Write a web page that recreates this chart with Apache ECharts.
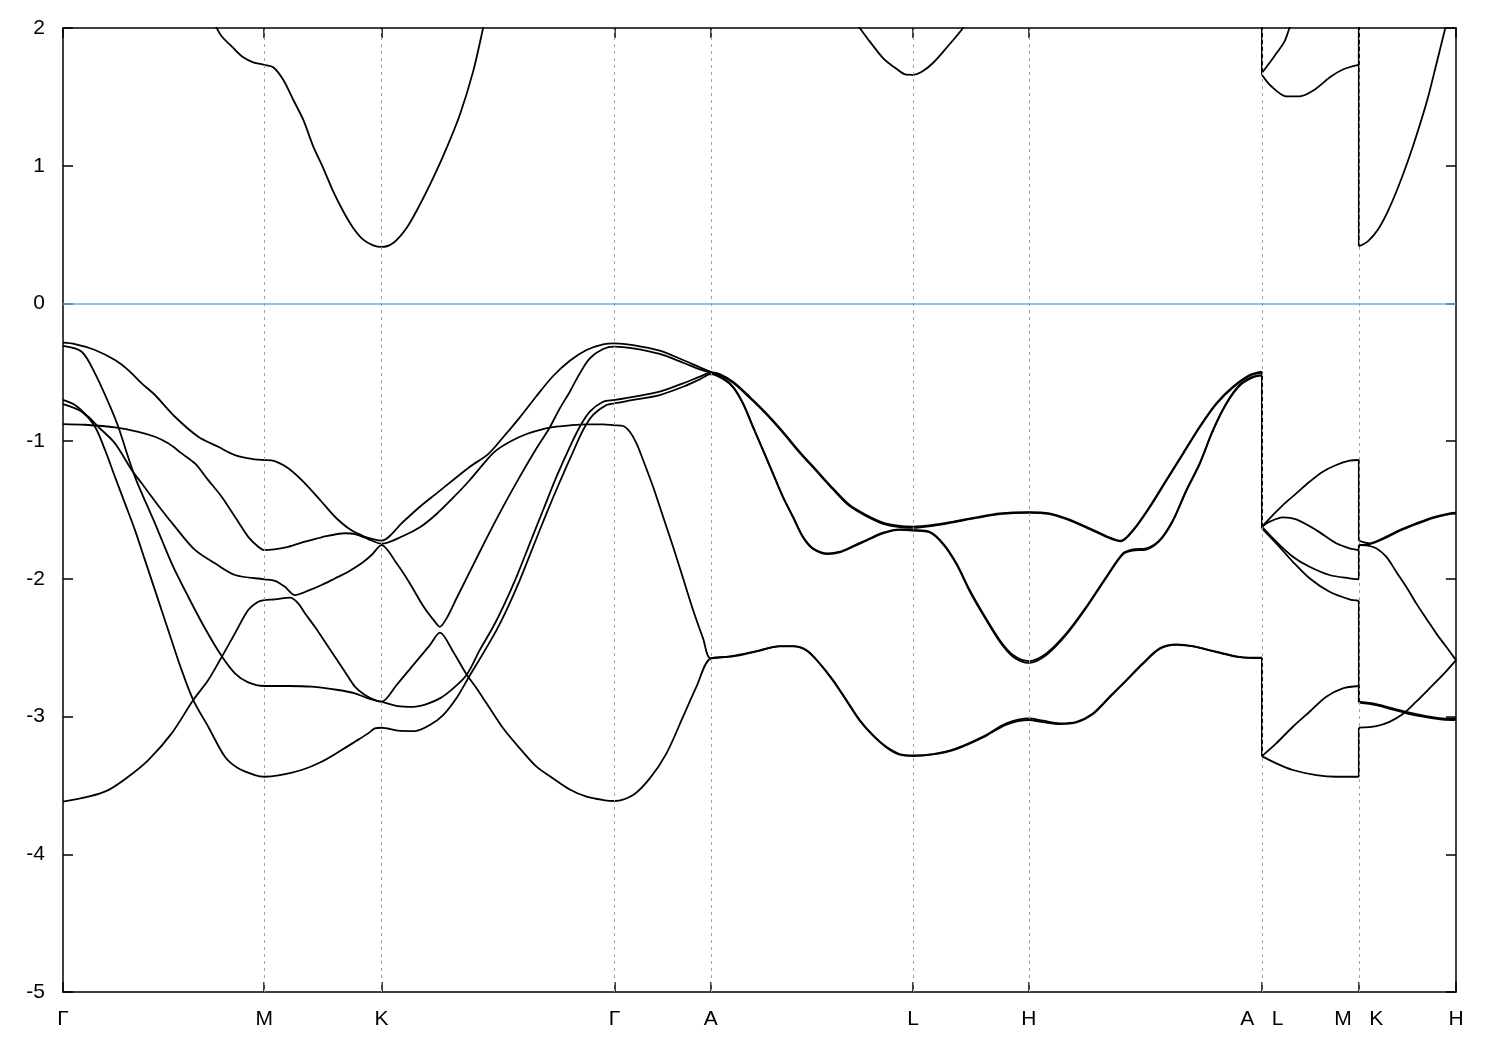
<!DOCTYPE html>
<html>
<head>
<meta charset="utf-8">
<script src="https://cdn.jsdelivr.net/npm/echarts@6/dist/echarts.min.js"></script>
<style>html,body{margin:0;padding:0;background:#fff}#chart{width:1500px;height:1050px}</style>
</head>
<body>
<div id="chart"></div>
<script>
// High-symmetry points along the k-path (path distance units) and their labels
const kTicks = [0, 201.3, 318.7, 551.7, 648, 850.3, 966.3, 1199.3, 1296.3, 1393.5];
const kLabels = ['Γ', 'M', 'K', 'Γ', 'A', 'L', 'H', 'A   L', 'M   K', 'H'];
const energyMin = -5, energyMax = 2, energyStep = 1;
const fermiLevel = 0;

// ---- valence bands: [k, E] along Γ-M-K-Γ-A-L-H-A, then L-M, then K-H ----
const b1Path = [[0,-0.285],[12,-0.295],[32,-0.338],[52,-0.411],[65.3,-0.484],[78.7,-0.580],[92,-0.665],[112,-0.823],[135.3,-0.968],[155.3,-1.041],[172,-1.101],[192,-1.132],[201.3,-1.137],
 [208.7,-1.140],[225.3,-1.197],[242,-1.306],[258.7,-1.440],[272,-1.549],[287,-1.640],[302,-1.694],[312,-1.715],[318.7,-1.722],
 [340.3,-1.585],[357,-1.476],[373.7,-1.379],[390.3,-1.282],[407,-1.186],[425.3,-1.094],[440.3,-0.972],[457,-0.827],[473.7,-0.672],[490.3,-0.527],[507,-0.416],[523.7,-0.338],[540.3,-0.297],[551.7,-0.290],
 [570.3,-0.302],[597,-0.343],[620.3,-0.411],[637,-0.464],[648,-0.496],
 [657,-0.513],[670.3,-0.569],[687,-0.678],[703.7,-0.798],[720.3,-0.932],[737,-1.077],[753.7,-1.210],[770.3,-1.343],[787,-1.464],[803.7,-1.537],[820.3,-1.592],[837,-1.616],[850.3,-1.621],
 [870.3,-1.609],[890.3,-1.585],[913.7,-1.553],[937,-1.524],[966.3,-1.515],[987,-1.524],[1003.7,-1.561],[1023.7,-1.622],[1043.7,-1.689],[1058,-1.723],[1070.3,-1.646],[1087,-1.476],[1103.7,-1.282],[1120.3,-1.089],[1137,-0.895],[1153.7,-0.725],[1170.3,-0.605],[1187,-0.520],[1199.3,-0.496]];
const b1LM = [[1199.3,-1.621],[1210.3,-1.537],[1220.3,-1.464],[1233.7,-1.379],[1247,-1.295],[1260.3,-1.222],[1273.7,-1.173],[1287,-1.142],[1296.3,-1.137]];
const b1KH = [[1296.3,-1.722],[1307,-1.742],[1320.3,-1.706],[1337,-1.646],[1353.7,-1.597],[1370.3,-1.553],[1387,-1.524],[1393.5,-1.520]];

const b2Path = [[0,-0.876],[22,-0.881],[52,-0.900],[75.3,-0.932],[92,-0.968],[105.3,-1.016],[118.7,-1.089],[132,-1.162],[145.3,-1.283],[158.7,-1.404],[172,-1.549],[185.3,-1.695],[195.3,-1.767],[201.3,-1.791],
 [225.3,-1.767],[242,-1.730],[258.7,-1.698],[282,-1.669],[292,-1.675],[305.3,-1.711],[318.7,-1.745],
 [340.3,-1.689],[357,-1.626],[373.7,-1.529],[390.3,-1.411],[407,-1.282],[425.3,-1.125],[433.7,-1.065],[447,-1.004],[463.7,-0.948],[480.3,-0.912],[493.7,-0.895],[507,-0.885],[523.7,-0.878],[540.3,-0.878],[551.7,-0.885],
 [560.3,-0.890],[567,-0.932],[573.7,-1.016],[580.3,-1.137],[590.3,-1.331],[600.3,-1.549],[610.3,-1.767],[620.3,-1.996],[630.3,-2.226],[640.3,-2.432],[648,-2.577],
 [670.3,-2.560],[693.7,-2.524],[717,-2.488],[730.3,-2.488],[743.7,-2.517],[757,-2.613],[770.3,-2.735],[783.7,-2.880],[797,-3.025],[810.3,-3.134],[823.7,-3.219],[837,-3.272],[850.3,-3.282],
 [870.3,-3.272],[893.7,-3.231],[920.3,-3.146],[943.7,-3.049],[966.3,-3.013],[980.3,-3.030],[997,-3.049],[1013.7,-3.038],[1030.3,-2.977],[1047,-2.856],[1063.7,-2.735],[1080.3,-2.613],[1097,-2.505],[1113.7,-2.476],[1130.3,-2.488],[1153.7,-2.529],[1177,-2.566],[1199.3,-2.573]];
const b2LM = [[1199.3,-3.287],[1213.7,-3.194],[1230.3,-3.074],[1247,-2.965],[1263.7,-2.856],[1280.3,-2.795],[1296.3,-2.778]];
const b2KH = [[1296.3,-2.898],[1313.7,-2.916],[1330.3,-2.949],[1347,-2.982],[1363.7,-3.004],[1380.3,-3.022],[1393.5,-3.025]];

const b3Path = [[0,-0.701],[12,-0.738],[25.3,-0.823],[35.3,-0.896],[52,-1.016],[68.7,-1.209],[78.7,-1.306],[98.7,-1.500],[112,-1.621],[132,-1.790],[152,-1.887],[172,-1.972],[201.3,-2.003],
 [212,-2.014],[222,-2.057],[232,-2.118],[245.3,-2.086],[258.7,-2.045],[272,-1.997],[285.3,-1.948],[298.7,-1.887],[308.7,-1.827],[318.7,-1.755],
 [333.7,-1.887],[347,-2.033],[360.3,-2.197],[372,-2.311],[377,-2.348],[383.7,-2.287],[393.7,-2.141],[407,-1.948],[423.7,-1.706],[440.3,-1.476],[457,-1.258],[473.7,-1.052],[486,-0.912],[497,-0.762],[507,-0.641],[517,-0.508],[527,-0.399],[540.3,-0.331],[551.7,-0.314],
 [570.3,-0.326],[597,-0.367],[620.3,-0.431],[637,-0.479],[648,-0.503],
 [657,-0.520],[670.3,-0.577],[687,-0.686],[703.7,-0.806],[720.3,-0.940],[737,-1.085],[753.7,-1.218],[770.3,-1.351],[787,-1.472],[803.7,-1.545],[820.3,-1.600],[837,-1.624],[850.3,-1.630],
 [870.3,-1.615],[890.3,-1.590],[913.7,-1.558],[937,-1.530],[966.3,-1.520],[987,-1.530],[1003.7,-1.567],[1023.7,-1.628],[1043.7,-1.695],[1058,-1.728],[1070.3,-1.652],[1087,-1.482],[1103.7,-1.288],[1120.3,-1.095],[1137,-0.901],[1153.7,-0.731],[1170.3,-0.611],[1187,-0.526],[1199.3,-0.503]];
const b3LM = [[1199.3,-1.621],[1207,-1.585],[1220.3,-1.553],[1233.7,-1.568],[1253.7,-1.646],[1273.7,-1.742],[1287,-1.778],[1296.3,-1.791]];
const b3KH = [[1296.3,-1.755],[1307,-1.748],[1320.3,-1.712],[1337,-1.652],[1353.7,-1.603],[1370.3,-1.559],[1387,-1.530],[1393.5,-1.526]];

const b4Path = [[0,-3.618],[25.3,-3.582],[45.3,-3.534],[65.3,-3.437],[85.3,-3.316],[108.7,-3.122],[130.3,-2.880],[145.3,-2.735],[158,-2.577],[172,-2.396],[185.3,-2.226],[195.3,-2.166],[201.3,-2.154],
 [212,-2.149],[227,-2.137],[235.3,-2.178],[242,-2.250],[252,-2.348],[262,-2.457],[272,-2.566],[282,-2.674],[292,-2.783],[302,-2.844],[312,-2.880],[318.7,-2.892],
 [333.7,-2.771],[350.3,-2.626],[367,-2.481],[377,-2.391],[390.3,-2.529],[403,-2.686],[413.7,-2.795],[423.7,-2.904],[440.3,-3.085],[457,-3.231],[473.7,-3.364],[490.3,-3.449],[507,-3.529],[523.7,-3.582],[540.3,-3.606],[551.7,-3.613],
 [570.3,-3.570],[587,-3.449],[603.7,-3.267],[620.3,-3.001],[633.7,-2.783],[648,-2.577],
 [670.3,-2.563],[693.7,-2.527],[717,-2.491],[730.3,-2.491],[743.7,-2.521],[757,-2.617],[770.3,-2.740],[783.7,-2.885],[797,-3.030],[810.3,-3.139],[823.7,-3.224],[837,-3.277],[850.3,-3.287],
 [870.3,-3.275],[893.7,-3.236],[920.3,-3.152],[943.7,-3.058],[966.3,-3.025],[980.3,-3.040],[997,-3.055],[1013.7,-3.043],[1030.3,-2.982],[1047,-2.860],[1063.7,-2.739],[1080.3,-2.617],[1097,-2.509],[1113.7,-2.480],[1130.3,-2.491],[1153.7,-2.532],[1177,-2.569],[1199.3,-2.576]];
const b4LM = [[1199.3,-3.287],[1213.7,-3.340],[1230.3,-3.388],[1253.7,-3.425],[1273.7,-3.437],[1296.3,-3.437]];
const b4KH = [[1296.3,-3.081],[1313.7,-3.069],[1327,-3.038],[1340.3,-2.982],[1353.7,-2.892],[1367,-2.795],[1380.3,-2.698],[1393.5,-2.590]];

const b5Path = [[0,-0.309],[18.7,-0.351],[32,-0.508],[48.7,-0.774],[55.3,-0.896],[72,-1.259],[92,-1.597],[108.7,-1.887],[125.3,-2.130],[142,-2.359],[158,-2.553],[172,-2.686],[185.3,-2.752],[201.3,-2.778],
 [225.3,-2.778],[248.7,-2.783],[275.3,-2.807],[292,-2.831],[305.3,-2.868],[318.7,-2.892],
 [335,-2.924],[350.3,-2.929],[363.7,-2.909],[377,-2.868],[390.3,-2.795],[403.7,-2.698],[417,-2.516],[430.3,-2.348],[440.3,-2.203],[453.7,-1.985],[467,-1.742],[480.3,-1.500],[493.7,-1.258],[507,-1.041],[517,-0.895],[527,-0.786],[540.3,-0.714],[551.7,-0.701],
 [570.3,-0.678],[597,-0.641],[620.3,-0.580],[637,-0.532],[648,-0.503],
 [660.3,-0.544],[670.3,-0.605],[680.3,-0.725],[690.3,-0.895],[700.3,-1.064],[710.3,-1.234],[720.3,-1.404],[730.3,-1.549],[740.3,-1.695],[750.3,-1.778],[765.3,-1.815],[777,-1.803],[790.3,-1.762],[803.7,-1.718],[820.3,-1.665],[837,-1.640],[850.3,-1.645],
 [867,-1.658],[880.3,-1.742],[893.7,-1.887],[907,-2.081],[920.3,-2.250],[937,-2.444],[950.3,-2.553],[966.3,-2.597],[983.7,-2.541],[1003.7,-2.396],[1023.7,-2.202],[1043.7,-1.985],[1060.3,-1.815],[1070.3,-1.786],[1083.7,-1.778],[1097,-1.718],[1110.3,-1.573],[1123.7,-1.356],[1137,-1.162],[1150.3,-0.920],[1163.7,-0.725],[1177,-0.592],[1190.3,-0.532],[1199.3,-0.520]];
const b5LM = [[1199.3,-1.621],[1213.7,-1.730],[1230.3,-1.839],[1247,-1.912],[1267,-1.972],[1287,-1.996],[1296.3,-2.003]];
const b5KH = [[1296.3,-1.755],[1305.3,-1.758],[1313.7,-1.778],[1323.7,-1.839],[1333.7,-1.948],[1343.7,-2.057],[1353.7,-2.178],[1363.7,-2.287],[1373.7,-2.396],[1383.7,-2.493],[1393.5,-2.590]];

const b6Path = [[0,-0.731],[18.7,-0.786],[32,-0.896],[42,-1.064],[52,-1.259],[62,-1.452],[72,-1.646],[82,-1.864],[92,-2.082],[105.3,-2.373],[118.7,-2.663],[130.3,-2.880],[145.3,-3.074],[162,-3.292],[175.3,-3.376],[192,-3.425],[201.3,-3.437],
 [217,-3.425],[238.7,-3.388],[258.7,-3.328],[278.7,-3.243],[292,-3.183],[305.3,-3.122],[312,-3.085],[318.7,-3.081],
 [335,-3.102],[352,-3.105],[367,-3.061],[380.3,-2.989],[393.7,-2.865],[405.3,-2.722],[420.3,-2.541],[433.7,-2.372],[443.7,-2.227],[457,-2.009],[470.3,-1.767],[483.7,-1.524],[497,-1.295],[510.3,-1.077],[520.3,-0.919],[530.3,-0.810],[543.7,-0.738],[551.7,-0.725],
 [570.3,-0.701],[597,-0.665],[620.3,-0.605],[637,-0.551],[648,-0.513],
 [660.3,-0.549],[670.3,-0.610],[680.3,-0.730],[690.3,-0.900],[700.3,-1.069],[710.3,-1.239],[720.3,-1.409],[730.3,-1.554],[740.3,-1.700],[750.3,-1.783],[765.3,-1.820],[777,-1.808],[790.3,-1.767],[803.7,-1.723],[820.3,-1.670],[837,-1.645],[850.3,-1.650],
 [867,-1.663],[880.3,-1.748],[893.7,-1.893],[907,-2.090],[920.3,-2.260],[937,-2.455],[950.3,-2.565],[966.3,-2.610],[983.7,-2.553],[1003.7,-2.406],[1023.7,-2.210],[1043.7,-1.992],[1060.3,-1.822],[1070.3,-1.795],[1083.7,-1.787],[1097,-1.725],[1110.3,-1.580],[1123.7,-1.362],[1137,-1.168],[1150.3,-0.926],[1163.7,-0.731],[1177,-0.598],[1190.3,-0.538],[1199.3,-0.525]];
const b6LM = [[1199.3,-1.633],[1213.7,-1.742],[1230.3,-1.876],[1247,-1.996],[1267,-2.094],[1287,-2.149],[1296.3,-2.159]];
const b6KH = [[1296.3,-2.892],[1313.7,-2.909],[1330.3,-2.940],[1347,-2.972],[1363.7,-2.996],[1380.3,-3.013],[1393.5,-3.016]];

// ---- conduction bands (values above 2 eV are off-frame estimates) ----
const c1Path = [[142,2.15],[153.7,2.0],[158.7,1.94],[170.3,1.855],[180.3,1.787],[190.3,1.751],[201.3,1.733],[210.3,1.715],[220.3,1.624],[230.3,1.479],[240.3,1.334],[250.3,1.141],[260.3,0.983],[270.3,0.814],[280.3,0.669],[290.3,0.548],[300.3,0.463],[310.3,0.422],[318.7,0.410],[330.3,0.439],[343.7,0.548],[357,0.717],[370.3,0.911],[383.7,1.128],[397,1.370],[410.3,1.685],[420.3,2.0],[428,2.25]];
const c2Path = [[780,2.16],[797,2.0],[807,1.903],[820.3,1.782],[833.7,1.704],[843.7,1.661],[850.3,1.66],[858.7,1.68],[870.3,1.746],[883.7,1.855],[900.3,2.0],[910,2.12],[1199.3,2.5]];
const c2LM = [[1199.3,1.661],[1208.7,1.577],[1223.7,1.504],[1237,1.504],[1252,1.552],[1268.7,1.649],[1282,1.704],[1296.3,1.733]];
const c2KH = [[1296.3,2.6]];
const c3Path = [[1199.3,2.7]];
const c3LM = [[1199.3,1.673],[1212,1.797],[1222,1.903],[1227,2.0],[1232,2.07],[1296.3,2.9]];
const c3KH = [[1296.3,0.415],[1305.3,0.451],[1315.3,0.535],[1325.3,0.669],[1335.3,0.838],[1345.3,1.032],[1355.3,1.250],[1365.3,1.492],[1373.7,1.733],[1382,1.976],[1390,2.21]];

const bandSets = [
  [b1Path, b1LM, b1KH], [b2Path, b2LM, b2KH], [b3Path, b3LM, b3KH],
  [b4Path, b4LM, b4KH], [b5Path, b5LM, b5KH], [b6Path, b6LM, b6KH],
  [c1Path], [c2Path, c2LM, c2KH], [c3Path, c3LM, c3KH]
];

const FONT = '"Liberation Sans", Arial, Helvetica, sans-serif';
const lineStyle = { color: '#000', width: 1.8 };
const series = [];

// guide series: dashed verticals at the high-symmetry points and the blue zero line
series.push({
  type: 'line', data: [], silent: true, z: 1,
  markLine: {
    silent: true, symbol: ['none', 'none'], animation: false,
    label: { show: false },
    data: kTicks.slice(1, -1).map(v => ({ xAxis: v, lineStyle: { color: '#a0a0a0', width: 1, type: [3, 4] } }))
      .concat([{ yAxis: fermiLevel, lineStyle: { color: '#56B4E9', width: 1.5, type: 'solid' } }])
  }
});

bandSets.forEach(segs => {
  segs.forEach((seg, i) => {
    if (seg.length > 1) {
      series.push({ type: 'line', data: seg, smooth: 0.3, showSymbol: false, silent: true, z: 3, lineStyle: lineStyle, animation: false });
    }
    if (i > 0) {
      const prev = segs[i - 1];
      const a = prev[prev.length - 1], b = seg[0];
      series.push({ type: 'line', data: [a, b], smooth: false, showSymbol: false, silent: true, z: 3, lineStyle: lineStyle, animation: false });
    }
  });
});

const xLabelFor = v => {
  const i = kTicks.findIndex(t => Math.abs(t - v) < 0.01);
  return i >= 0 ? kLabels[i] : '';
};

const axisLineStyle = { show: true, onZero: false, lineStyle: { color: '#000', width: 1.5 } };

const chart = echarts.init(document.getElementById('chart'), null, { renderer: 'canvas' });
chart.setOption({
  animation: false,
  backgroundColor: '#fff',
  grid: { left: 63, right: 44, top: 28, bottom: 58, containLabel: false },
  xAxis: [
    {
      type: 'value', min: kTicks[0], max: kTicks[kTicks.length - 1], position: 'bottom',
      axisLine: axisLineStyle,
      axisTick: { show: true, inside: true, length: 10, customValues: kTicks, lineStyle: { color: '#000', width: 1.5 } },
      axisLabel: { show: true, customValues: kTicks, formatter: xLabelFor, fontSize: 21, color: '#000', fontFamily: FONT, margin: 17 },
      splitLine: { show: false }
    },
    {
      type: 'value', min: kTicks[0], max: kTicks[kTicks.length - 1], position: 'top',
      axisLine: axisLineStyle,
      axisTick: { show: true, inside: true, length: 10, customValues: kTicks, lineStyle: { color: '#000', width: 1.5 } },
      axisLabel: { show: false },
      splitLine: { show: false }
    }
  ],
  yAxis: [
    {
      type: 'value', min: energyMin, max: energyMax, interval: energyStep, position: 'left',
      axisLine: axisLineStyle,
      axisTick: { show: true, inside: true, length: 10, lineStyle: { color: '#000', width: 1.5 } },
      axisLabel: { show: true, fontSize: 21, color: '#000', fontFamily: FONT, margin: 18 },
      splitLine: { show: false }
    },
    {
      type: 'value', min: energyMin, max: energyMax, interval: energyStep, position: 'right',
      axisLine: axisLineStyle,
      axisTick: { show: true, inside: true, length: 10, lineStyle: { color: '#000', width: 1.5 } },
      axisLabel: { show: false },
      splitLine: { show: false }
    }
  ],
  series: series
});
</script>
</body>
</html>
